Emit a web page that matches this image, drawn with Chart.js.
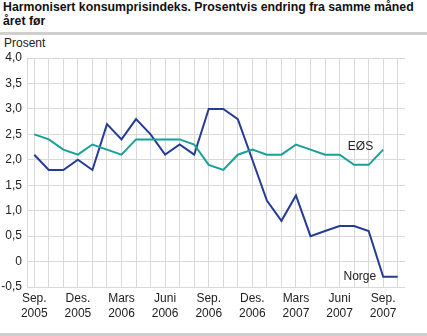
<!DOCTYPE html>
<html>
<head>
<meta charset="utf-8">
<script src="https://cdn.jsdelivr.net/npm/chart.js@4/dist/chart.umd.min.js"></script>
<style>
  html, body { margin: 0; padding: 0; background: #fff; }
  body { width: 427px; height: 336px; position: relative; overflow: hidden; font-family: "Liberation Sans", Arial, sans-serif; }
  #title { position: absolute; left: 3px; top: 0px; white-space: nowrap; font-size: 12.3px; font-weight: bold; line-height: 14px; color: #111; }
  #unit { position: absolute; left: 4px; top: 36px; font-size: 12px; color: #222; }
  .rule { position: absolute; left: 0; width: 427px; height: 3px; background: #cfcfcf; }
  #wrap { position: absolute; left: 0; top: 0; width: 427px; height: 336px; }
</style>
</head>
<body>
<div id="title">Harmonisert konsumprisindeks. Prosentvis endring fra samme måned<br>året før</div>
<div class="rule" style="top:32px"></div>
<div id="unit">Prosent</div>
<div class="rule" style="top:333px"></div>
<div id="wrap"><canvas id="chart" width="427" height="336"></canvas></div>
<script>
// Months Sep. 2005 - Okt. 2007
const months = ['Sep. 2005','Okt. 2005','Nov. 2005','Des. 2005','Jan. 2006','Feb. 2006','Mars 2006','April 2006','Mai 2006','Juni 2006','Juli 2006','Aug. 2006',
                'Sep. 2006','Okt. 2006','Nov. 2006','Des. 2006','Jan. 2007','Feb. 2007','Mars 2007','April 2007','Mai 2007','Juni 2007','Juli 2007','Aug. 2007',
                'Sep. 2007','Okt. 2007'];
// only every third month gets a label on the axis
const tickLabels = { 0: ['Sep.', '2005'], 3: ['Des.', '2005'], 6: ['Mars', '2006'], 9: ['Juni', '2006'], 12: ['Sep.', '2006'],
                     15: ['Des.', '2006'], 18: ['Mars', '2007'], 21: ['Juni', '2007'], 24: ['Sep.', '2007'] };

const norge = [2.1, 1.8, 1.8, 2.0, 1.8, 2.7, 2.4, 2.8, 2.5, 2.1, 2.3, 2.1,
               3.0, 3.0, 2.8, 2.0, 1.2, 0.8, 1.3, 0.5, 0.6, 0.7, 0.7, 0.6,
               -0.3, -0.3];
const eos = [2.5, 2.4, 2.2, 2.1, 2.3, 2.2, 2.1, 2.4, 2.4, 2.4, 2.4, 2.3,
             1.9, 1.8, 2.1, 2.2, 2.1, 2.1, 2.3, 2.2, 2.1, 2.1, 1.9, 1.9,
             2.2, null];

const yMin = -0.5, yMax = 4.0, yStep = 0.5;

const NORGE_COLOR = '#263c94';
const EOS_COLOR = '#199f99';
const GRID = '#d9d9d9';
const FONT = '"Liberation Sans", Arial, sans-serif';

// series name labels drawn next to the lines
const seriesLabels = {
    id: 'seriesLabels',
    afterDatasetsDraw(chart) {
        const { ctx, scales: { x, y } } = chart;
        ctx.save();
        ctx.font = '12px ' + FONT;
        ctx.fillStyle = '#222';
        ctx.textAlign = 'right';
        ctx.textBaseline = 'middle';
        ctx.fillText('EØS', x.getPixelForValue(24) - 10, y.getPixelForValue(2.25));
        ctx.fillText('Norge', x.getPixelForValue(24) - 7, y.getPixelForValue(-0.3));
        ctx.restore();
    }
};

new Chart(document.getElementById('chart'), {
    type: 'line',
    data: {
        labels: months,
        datasets: [
            { label: 'EØS', data: eos, borderColor: EOS_COLOR, borderWidth: 2, pointRadius: 0, tension: 0 },
            { label: 'Norge', data: norge, borderColor: NORGE_COLOR, borderWidth: 2, pointRadius: 0, tension: 0 }
        ]
    },
    options: {
        responsive: false,
        animation: false,
        layout: { padding: { top: 58, right: 22, left: 0, bottom: 0 } },
        plugins: { legend: { display: false }, tooltip: { enabled: false } },
        scales: {
            x: {
                offset: true,
                grid: { offset: false, color: GRID, drawTicks: false },
                border: { display: false },
                afterFit: (s) => { s.height = 49; },
                ticks: {
                    autoSkip: false, maxRotation: 0, padding: 4,
                    color: '#222',
                    font: { family: FONT, size: 12, lineHeight: 1.25 },
                    callback: (v, i) => tickLabels[i] || ''
                }
            },
            y: {
                min: yMin, max: yMax,
                grid: { color: GRID, drawTicks: false },
                border: { display: true, color: GRID },
                afterFit: (s) => { s.width = 27; },
                ticks: {
                    stepSize: yStep, padding: 5,
                    color: '#222',
                    font: { family: FONT, size: 12 },
                    callback: (v) => v === 0 ? '0' : v.toFixed(1).replace('.', ',')
                }
            }
        }
    },
    plugins: [seriesLabels]
});
</script>
</body>
</html>
